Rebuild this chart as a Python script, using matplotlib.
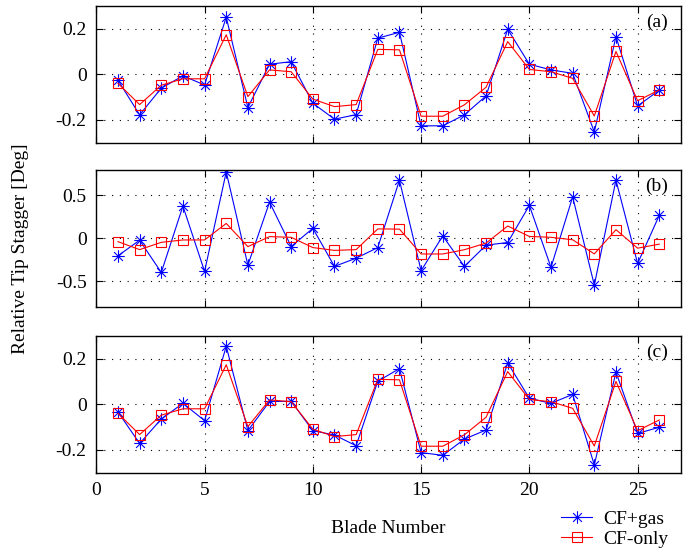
import numpy as np
import matplotlib
matplotlib.use('Agg')
import matplotlib.pyplot as plt
from matplotlib.path import Path

plt.rcParams['font.family'] = 'serif'
plt.rcParams['font.serif'] = ['Liberation Serif', 'DejaVu Serif']
plt.rcParams['axes.unicode_minus'] = False

blades = np.arange(1, 27)

# CF-only stagger, same in all three panels
cf_only = [-0.04, -0.133, -0.048, -0.02, -0.02, 0.173, -0.098, 0.019, 0.011, -0.109,
           -0.142, -0.133, 0.109, 0.107, -0.184, -0.184, -0.134, -0.057, 0.143, 0.021,
           0.011, -0.018, -0.183, 0.1, -0.116, -0.069]

gas_a = [-0.026, -0.178, -0.061, -0.007, -0.047, 0.25, -0.146, 0.044, 0.055, -0.127,
         -0.197, -0.177, 0.158, 0.184, -0.226, -0.226, -0.178, -0.095, 0.197, 0.044,
         0.019, 0.004, -0.253, 0.165, -0.139, -0.07]

gas_b = [-0.205, -0.023, -0.4, 0.376, -0.388, 0.775, -0.314, 0.422, -0.097, 0.116,
         -0.329, -0.233, -0.109, 0.678, -0.38, 0.027, -0.329, -0.081, -0.05, 0.384,
         -0.341, 0.484, -0.547, 0.678, -0.295, 0.267]

gas_c = [-0.034, -0.172, -0.065, 0.004, -0.072, 0.254, -0.116, 0.012, 0.013, -0.116,
         -0.135, -0.182, 0.101, 0.156, -0.212, -0.224, -0.153, -0.113, 0.181, 0.026,
         0.004, 0.043, -0.266, 0.141, -0.128, -0.101]

panels = [('(a)', gas_a, (-0.3, 0.3), [-0.2, 0, 0.2], ['-0.2', '0', '0.2']),
          ('(b)', gas_b, (-0.8, 0.8), [-0.5, 0, 0.5], ['-0.5', '0', '0.5']),
          ('(c)', gas_c, (-0.3, 0.3), [-0.2, 0, 0.2], ['-0.2', '0', '0.2'])]

# 8-spoke asterisk like matlab's '*'
d = 0.7071
star = Path([(-1, 0), (1, 0), (0, -1), (0, 1), (-d, -d), (d, d), (-d, d), (d, -d)],
            [Path.MOVETO, Path.LINETO] * 4)

fig = plt.figure(figsize=(6.91, 5.52), dpi=100)
bottoms = [0.7415, 0.4444, 0.1437]
axes = []
for (tag, gas, ylim, yt, ytl), b in zip(panels, bottoms):
    ax = fig.add_axes([0.1394, b, 0.846, 0.248])
    l1, = ax.plot(blades, gas, color='blue', lw=0.8, marker=star, ms=9,
                  mfc='none', mec='blue', mew=0.8, label='CF+gas')
    l2, = ax.plot(blades, cf_only, color='red', lw=0.8, marker='s', ms=7.5,
                  mfc='none', mec='red', mew=0.8, label='CF-only')
    ax.set_xlim(0, 27)
    ax.set_ylim(*ylim)
    ax.set_xticks([0, 5, 10, 15, 20, 25])
    ax.set_yticks(yt)
    ax.set_yticklabels(ytl)
    ax.grid(True, color='black', lw=0.8, linestyle=(0, (1, 6)))
    ax.tick_params(direction='in', top=True, right=True, length=5, width=0.8,
                   labelsize=14, pad=7)
    for s in ax.spines.values():
        s.set_linewidth(1.0)
    ax.text(0.959, 0.88, tag, transform=ax.transAxes, ha='center', va='center', fontsize=14)
    axes.append(ax)

for ax in axes[:2]:
    ax.tick_params(labelbottom=False)

axes[2].set_xlabel('Blade Number', fontsize=14, labelpad=15)
fig.text(0.029, 0.55, 'Relative Tip Stagger [Deg]', rotation=90, ha='center',
         va='center', fontsize=14)

fig.legend([l1, l2], ['CF+gas', 'CF-only'], loc='center left',
           bbox_to_anchor=(0.812, 0.0417), frameon=False, fontsize=14,
           handlelength=1.6, handletextpad=0.55, labelspacing=0.15,
           borderpad=0, borderaxespad=0)

plt.savefig('out.png', dpi=100)
